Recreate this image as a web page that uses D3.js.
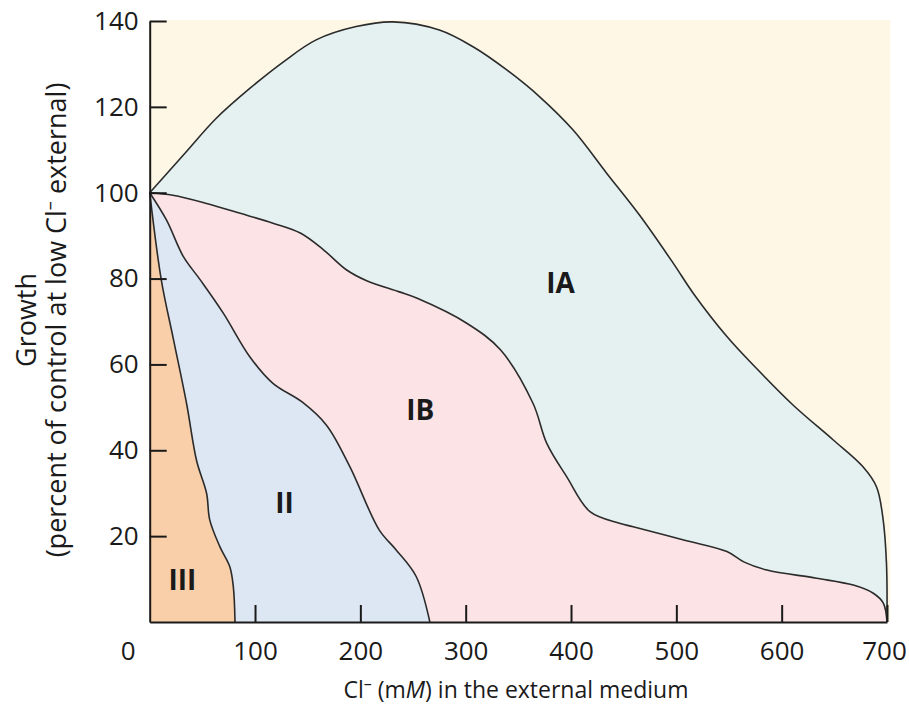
<!DOCTYPE html>
<html>
 <head>
  <title>Growth vs external Cl-</title>
  <style>
  body {
   margin: 0;
   background-color: white;
  }
  text {
   font-family: "Open Sans", "Noto Sans", sans-serif;
   fill: #1a1a1a;
  }
  </style>
  <script src="https://cdnjs.cloudflare.com/ajax/libs/d3/7.8.3/d3.min.js"></script>
 </head>

 <body>
  <script>
   // boundary curves, [Cl- mM, growth %]
   const topCurve = [[0,100],[32,108.8],[63,117.3],[95,124.3],[127,130.5],[158,135.6],[196,138.7],
                     [231,139.8],[275,137.9],[307,134],[339,128.6],[370,122.4],[402,114.6],[434,104.5],
                     [465,94.8],[497,83.6],[516,76.6],[548,66.5],[576,59.1],[611,50.5],[649,42.4],
                     [677,36.2],[690,31.5],[696,24.5],[699.5,13.7],[700,0]];
   const iaIbCurve = [[0,100],[22,99.4],[54,97.5],[86,95.2],[117,92.9],[143,90.6],[165,86.7],[187,82],
                      [206,79.5],[237,76.9],[254,75.4],[301,69.6],[333,63.4],[364,50.9],[377,41.6],
                      [396,33.8],[418,25.7],[446,23],[459,22.2],[507,19.1],[548,16.4],[564,14],
                      [586,12.1],[633,10.2],[668,8.6],[687,6.7],[696.5,4.4],[700,0]];
   const ibIICurve = [[0,100],[16,93.6],[32,85.1],[48,79.7],[70,71.9],[95,61.8],[117,55.6],[145,51.2],
                      [168,45.8],[190,36.2],[218,21.4],[234,16.8],[253,10.6],[266,0]];
   const iiIIICurve = [[0,100],[11,79.7],[22.4,66],[35,50.9],[44.6,37.5],[54,30],[57,23.8],[66.7,17.5],
                       [76,12.9],[79.4,8.2],[81,0]];
   const regionLabels = [["IA",390,79],["IB",257,49.4],["II",128,27.7],["III",31,9.8]];
   const xTicks = [0,100,200,300,400,500,600,700];
   const yTicks = [20,40,60,80,100,120,140];

   const w = 909;
   const h = 712;

   const xScale = d3.scaleLinear()
                    .domain([0, 700])
                    .range([149.7, 887]);
   const yScale = d3.scaleLinear()
                    .domain([0, 140])
                    .range([622, 21]);

   const svg = d3.select("body")
                 .append("svg")
                 .attr("width", w)
                 .attr("height", h);

   // plot background
   svg.append("rect")
      .attr("x", xScale(0))
      .attr("y", yScale(140) - 1)
      .attr("width", xScale(703) - xScale(0))
      .attr("height", yScale(0) - yScale(140) + 1)
      .attr("fill", "#fef7e5");

   const line = d3.line()
                  .x(d => xScale(d[0]))
                  .y(d => yScale(d[1]))
                  .curve(d3.curveCatmullRom);

   // join a curve with the reverse of another
   const joined = (a, b, extra) => {
    let p = line(a);
    (extra || []).forEach(d => { p += "L" + xScale(d[0]) + "," + yScale(d[1]); });
    if (b) p += "L" + line(b.slice().reverse()).slice(1);
    return p + "Z";
   };

   const regions = [
    [joined(topCurve, iaIbCurve), "#e4f1f0"],
    [joined(iaIbCurve, ibIICurve), "#fce3e5"],
    [joined(ibIICurve, iiIIICurve), "#dde7f4"],
    [joined(iiIIICurve, null, [[0,0]]), "#f8cfa9"]
   ];

   svg.selectAll("path.region")
      .data(regions)
      .enter()
      .append("path")
      .attr("class", "region")
      .attr("d", d => d[0])
      .attr("fill", d => d[1]);

   svg.selectAll("path.edge")
      .data([topCurve, iaIbCurve, ibIICurve, iiIIICurve])
      .enter()
      .append("path")
      .attr("class", "edge")
      .attr("d", d => line(d))
      .attr("fill", "none")
      .attr("stroke", "#2b2b2b")
      .attr("stroke-width", 1.6);

   const xAxis = d3.axisBottom(xScale)
                   .tickValues(xTicks)
                   .tickSize(-17)
                   .tickPadding(20)
                   .tickSizeOuter(0);
   const yAxis = d3.axisLeft(yScale)
                   .tickValues(yTicks)
                   .tickSize(-17)
                   .tickPadding(11)
                   .tickSizeOuter(0);

   const gx = svg.append("g")
                 .attr("transform", "translate(0," + yScale(0) + ")")
                 .call(xAxis);
   const gy = svg.append("g")
                 .attr("transform", "translate(" + xScale(0) + ",0)")
                 .call(yAxis);

   [gx, gy].forEach(g => {
    g.selectAll("path, line").attr("stroke", "#1a1a1a").attr("stroke-width", 2);
    g.selectAll("text").attr("font-size", 26).attr("font-family", "'Open Sans', sans-serif").attr("fill", "#1a1a1a");
   });
   gx.selectAll(".tick").filter(d => d === 0).select("line").remove();
   gx.selectAll(".tick").filter(d => d === 0).select("text").attr("dx", -22);
   gx.selectAll(".tick").filter(d => d === 700).select("text").attr("dx", -3);

   svg.selectAll("text.region")
      .data(regionLabels)
      .enter()
      .append("text")
      .attr("class", "region")
      .attr("x", d => xScale(d[1]))
      .attr("y", d => yScale(d[2]))
      .attr("text-anchor", "middle")
      .attr("dy", "0.36em")
      .attr("font-size", 28)
      .attr("font-weight", "bold")
      .text(d => d[0]);

   // axis titles
   const xt = svg.append("text")
                 .attr("x", 516)
                 .attr("y", 698)
                 .attr("text-anchor", "middle")
                 .attr("font-size", 23);
   xt.append("tspan").text("Cl");
   xt.append("tspan").attr("font-size", 16).attr("dy", -9).text("\u2013");
   xt.append("tspan").attr("dy", 9).text(" (m");
   xt.append("tspan").attr("font-style", "italic").text("M");
   xt.append("tspan").text(") in the external medium");

   const yt = svg.append("g")
                 .attr("transform", "translate(0,320) rotate(-90)")
                 .attr("font-size", 27);
   yt.append("text")
     .attr("x", 0)
     .attr("y", 36)
     .attr("text-anchor", "middle")
     .text("Growth");
   const yt2 = yt.append("text")
                 .attr("x", 0)
                 .attr("y", 66)
                 .attr("text-anchor", "middle");
   yt2.append("tspan").text("(percent of control at low Cl");
   yt2.append("tspan").attr("font-size", 18).attr("dy", -10).text("\u2013");
   yt2.append("tspan").attr("dy", 10).text(" external)");
  </script>
 </body>
</html>
